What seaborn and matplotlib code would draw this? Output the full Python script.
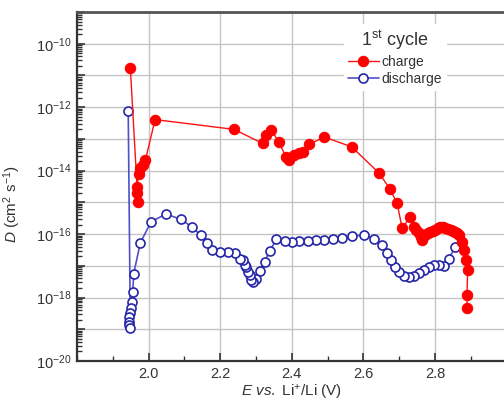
import numpy as np
import pandas as pd
import matplotlib
matplotlib.use("Agg")
import matplotlib.pyplot as plt
import matplotlib.ticker as mticker
import seaborn as sns

# ---- data (E in V, log10 D in cm^2 s^-1) ----
charge_E = [1.949, 1.970, 1.968, 1.968, 1.972, 1.977, 1.983, 1.991, 2.018,
            2.239, 2.318, 2.329, 2.343, 2.363, 2.384, 2.393, 2.407, 2.421,
            2.430, 2.448, 2.491, 2.567, 2.643, 2.674, 2.694, 2.708, 2.731,
            2.741, 2.748, 2.755, 2.760, 2.764, 2.773, 2.780, 2.787, 2.794,
            2.801, 2.808, 2.815, 2.822, 2.829, 2.836, 2.843, 2.850, 2.856,
            2.862, 2.866, 2.875, 2.880, 2.887, 2.891, 2.889, 2.889]
charge_logD = [-10.78, -14.98, -14.72, -14.51, -14.09, -13.93, -13.83, -13.67, -12.39,
               -12.70, -13.14, -12.88, -12.72, -13.09, -13.57, -13.65, -13.51, -13.44,
               -13.41, -13.17, -12.94, -13.25, -14.07, -14.58, -15.03, -15.82, -15.45,
               -15.77, -15.88, -15.98, -16.10, -16.19, -16.03, -15.98, -15.93, -15.90,
               -15.87, -15.80, -15.77, -15.78, -15.82, -15.85, -15.87, -15.90, -15.93,
               -15.98, -16.03, -16.24, -16.50, -16.82, -17.13, -17.92, -18.34]

discharge_E = [2.856, 2.838, 2.824, 2.810, 2.796, 2.782, 2.768, 2.755, 2.741,
               2.727, 2.713, 2.699, 2.687, 2.676, 2.667, 2.653, 2.630, 2.602,
               2.569, 2.539, 2.514, 2.490, 2.467, 2.444, 2.421, 2.400, 2.380,
               2.357, 2.338, 2.324, 2.310, 2.300, 2.291, 2.287, 2.282, 2.277,
               2.273, 2.268, 2.264, 2.254, 2.241, 2.222, 2.199, 2.176, 2.162,
               2.145, 2.120, 2.090, 2.048, 2.007, 1.977, 1.958, 1.956, 1.954,
               1.952, 1.949, 1.946, 1.944, 1.946, 1.949, 1.943]
discharge_logD = [-16.42, -16.77, -17.00, -16.98, -16.98, -17.03, -17.13, -17.24, -17.32,
                  -17.36, -17.32, -17.19, -17.03, -16.82, -16.61, -16.35, -16.14, -16.03,
                  -16.06, -16.12, -16.17, -16.19, -16.19, -16.21, -16.21, -16.24, -16.21,
                  -16.17, -16.53, -16.87, -17.16, -17.40, -17.50, -17.45, -17.29, -17.19,
                  -17.03, -16.98, -16.82, -16.77, -16.61, -16.58, -16.58, -16.50, -16.29,
                  -16.03, -15.77, -15.53, -15.37, -15.61, -16.27, -17.26, -17.82, -18.13,
                  -18.34, -18.50, -18.61, -18.76, -18.87, -18.97, -12.13]

x_ticks = [2.0, 2.2, 2.4, 2.6, 2.8]
y_label_exps = [-20, -18, -16, -14, -12, -10]

# ---- style ----
sns.set_theme(style="ticks")
plt.rcParams['font.family'] = ['Liberation Sans', 'DejaVu Sans']
plt.rcParams['mathtext.fontset'] = 'custom'
plt.rcParams['mathtext.rm'] = 'Liberation Sans'
plt.rcParams['mathtext.it'] = 'Liberation Sans:italic'
plt.rcParams['mathtext.bf'] = 'Liberation Sans:bold'

fig = plt.figure(figsize=(5.04, 4.12), dpi=100)
ax = fig.add_axes([0.1528, 0.1238, 0.8526, 0.847])

df_c = pd.DataFrame({"E": charge_E, "D": 10.0 ** np.array(charge_logD)})
df_d = pd.DataFrame({"E": discharge_E, "D": 10.0 ** np.array(discharge_logD)})

sns.lineplot(data=df_c, x="E", y="D", sort=False, estimator=None, ax=ax,
             color="#ff1010", lw=1.0, marker="o", markersize=7.5,
             markerfacecolor="#ff0000", markeredgecolor="#ff0000",
             label="charge", zorder=4)
sns.lineplot(data=df_d, x="E", y="D", sort=False, estimator=None, ax=ax,
             color="#5050c8", lw=1.2, marker="o", markersize=6.5,
             markerfacecolor="white", markeredgecolor="#2525a8",
             markeredgewidth=1.2, label="discharge", zorder=3)

ax.set_yscale("log")
ax.set_xlim(1.8, 3.0)
ax.set_ylim(1e-20, 1e-9)

ax.xaxis.set_major_locator(mticker.FixedLocator(x_ticks))
ax.xaxis.set_minor_locator(mticker.MultipleLocator(0.1))
ax.xaxis.set_major_formatter(mticker.FormatStrFormatter("%.1f"))

ax.yaxis.set_major_locator(mticker.LogLocator(base=10, numticks=30))
ax.yaxis.set_minor_locator(mticker.LogLocator(base=10, subs=np.arange(2, 10), numticks=30))

def yfmt(v, pos):
    e = int(round(np.log10(v)))
    if e in y_label_exps:
        return r"10$^{%d}$" % e
    return ""
ax.yaxis.set_major_formatter(mticker.FuncFormatter(yfmt))
ax.yaxis.set_minor_formatter(mticker.NullFormatter())

ax.grid(True, which="major", color="#c4c4c4", lw=1.0)
ax.set_axisbelow(True)

ax.tick_params(axis="both", which="major", direction="in", length=6, width=1.2,
               labelsize=10.5, colors="#333333", pad=4)
ax.tick_params(axis="both", which="minor", direction="in", length=3.5, width=1.0,
               colors="#333333")
ax.tick_params(axis="y", which="both", left=True, right=False)
ax.tick_params(axis="x", which="both", bottom=True, top=False)
for lab in ax.get_xticklabels() + ax.get_yticklabels():
    lab.set_color("#333333")

for s in ["left", "bottom", "top"]:
    ax.spines[s].set_color("#333333")
    ax.spines[s].set_linewidth(1.6)
ax.spines["top"].set_color("#555555")
ax.spines["top"].set_linewidth(2.0)
ax.spines["right"].set_visible(False)

ax.set_xlabel(r"$\it{E}$ $\it{vs.}$ Li$^{+}$/Li (V)", fontsize=11, color="#333333", labelpad=2)
ax.set_ylabel(r"$\it{D}$ (cm$^{2}$ s$^{-1}$)", fontsize=11, color="#333333")
ax.yaxis.set_label_coords(-0.125, 0.45)

leg = ax.legend(title=r"1$^{\mathrm{st}}$ cycle", loc="upper right",
                bbox_to_anchor=(0.875, 0.985), frameon=True, fancybox=False,
                fontsize=10, title_fontsize=13, handlelength=2.2,
                handletextpad=0.2, labelspacing=0.2, borderpad=0.3)
leg.get_frame().set_facecolor("white")
leg.get_frame().set_edgecolor("white")
leg.get_frame().set_alpha(1.0)
for t in leg.get_texts():
    t.set_color("#333333")
leg.get_title().set_color("#333333")

fig.savefig("out.png", dpi=100)
